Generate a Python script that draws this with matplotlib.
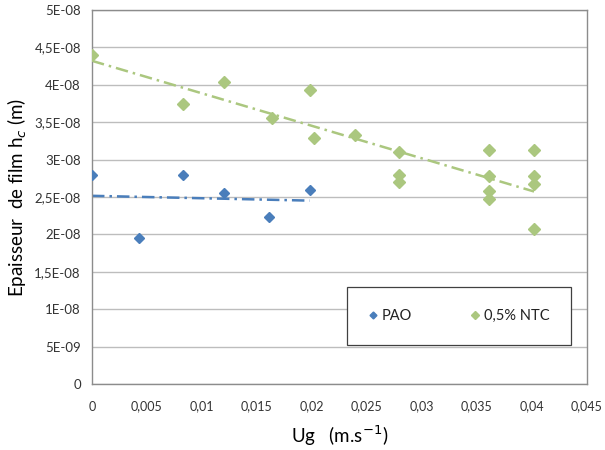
import numpy as np
import matplotlib
matplotlib.use("Agg")
import matplotlib.pyplot as plt
from matplotlib.ticker import FixedLocator

plt.rcParams['font.family'] = ['Lato', 'DejaVu Sans']

# PAO series
pao_x = [0.0, 0.00425, 0.0083, 0.0120, 0.0161, 0.0198]
pao_y = [2.79e-8, 1.95e-8, 2.79e-8, 2.55e-8, 2.23e-8, 2.59e-8]

# 0,5% NTC series
ntc_x = [0.0, 0.0083, 0.0120, 0.0164, 0.0198, 0.0202, 0.0239,
         0.0279, 0.0279, 0.0279,
         0.0361, 0.0361, 0.0361, 0.0361,
         0.0402, 0.0402, 0.0402, 0.0402]
ntc_y = [4.40e-8, 3.74e-8, 4.04e-8, 3.56e-8, 3.93e-8, 3.29e-8, 3.33e-8,
         3.10e-8, 2.80e-8, 2.70e-8,
         3.13e-8, 2.78e-8, 2.58e-8, 2.47e-8,
         3.13e-8, 2.78e-8, 2.67e-8, 2.07e-8]

x_ticks = [0, 0.005, 0.01, 0.015, 0.02, 0.025, 0.03, 0.035, 0.04, 0.045]
x_labels = ['0', '0,005', '0,01', '0,015', '0,02', '0,025', '0,03', '0,035', '0,04', '0,045']
y_ticks = [0, 5e-9, 1e-8, 1.5e-8, 2e-8, 2.5e-8, 3e-8, 3.5e-8, 4e-8, 4.5e-8, 5e-8]
y_labels = ['0', '5E-09', '1E-08', '1,5E-08', '2E-08', '2,5E-08', '3E-08',
            '3,5E-08', '4E-08', '4,5E-08', '5E-08']

blue = '#4A7EBB'
green = '#ABC77F'
grid_col = '#BDBDBD'
spine_col = '#8C8C8C'

fig = plt.figure(figsize=(6.05, 4.5), dpi=100)
ax = fig.add_axes([0.152, 0.1467, 0.818, 0.831])

ax.set_xlim(0, 0.045)
ax.set_ylim(0, 5e-8)
ax.xaxis.set_major_locator(FixedLocator(x_ticks))
ax.yaxis.set_major_locator(FixedLocator(y_ticks))
ax.set_xticklabels(x_labels)
ax.set_yticklabels(y_labels)
ax.tick_params(length=0, labelsize=9.5, colors='#333333')
ax.tick_params(axis='x', pad=12, labelsize=9)
ax.tick_params(axis='y', pad=8)
ax.grid(axis='y', color=grid_col, linewidth=1)
ax.set_axisbelow(True)
for s in ax.spines.values():
    s.set_color(spine_col)
    s.set_linewidth(1)

# linear trend lines (Excel style)
for xs, ys, col in [(pao_x, pao_y, blue), (ntc_x, ntc_y, green)]:
    k, b = np.polyfit(xs, ys, 1)
    xx = np.array([min(xs), max(xs)])
    ax.plot(xx, k * xx + b, color=col, linewidth=1.8, dashes=(5, 2, 1, 2), zorder=2)

ax.plot(pao_x, pao_y, 'D', color=blue, markersize=5, label='PAO', zorder=3)
ax.plot(ntc_x, ntc_y, 'D', color=green, markersize=6, label='0,5% NTC', zorder=3)

leg = ax.legend(loc='center', bbox_to_anchor=(0.742, 0.182), ncol=2, fontsize=10.5,
                frameon=True, fancybox=False, edgecolor='#404040', framealpha=1,
                handlelength=0.6, handletextpad=0.3, columnspacing=4.0,
                borderpad=1.5, borderaxespad=0, markerscale=0.7)
leg.get_frame().set_linewidth(0.9)
for t in leg.get_texts():
    t.set_color('#222222')

ax.set_xlabel('Ug   (m.s$^{-1}$)', fontsize=13.5, labelpad=8)
ax.set_ylabel('Epaisseur  de film h$_{c}$ (m)', fontsize=13.5, labelpad=4)

fig.savefig('out.png', dpi=100)
